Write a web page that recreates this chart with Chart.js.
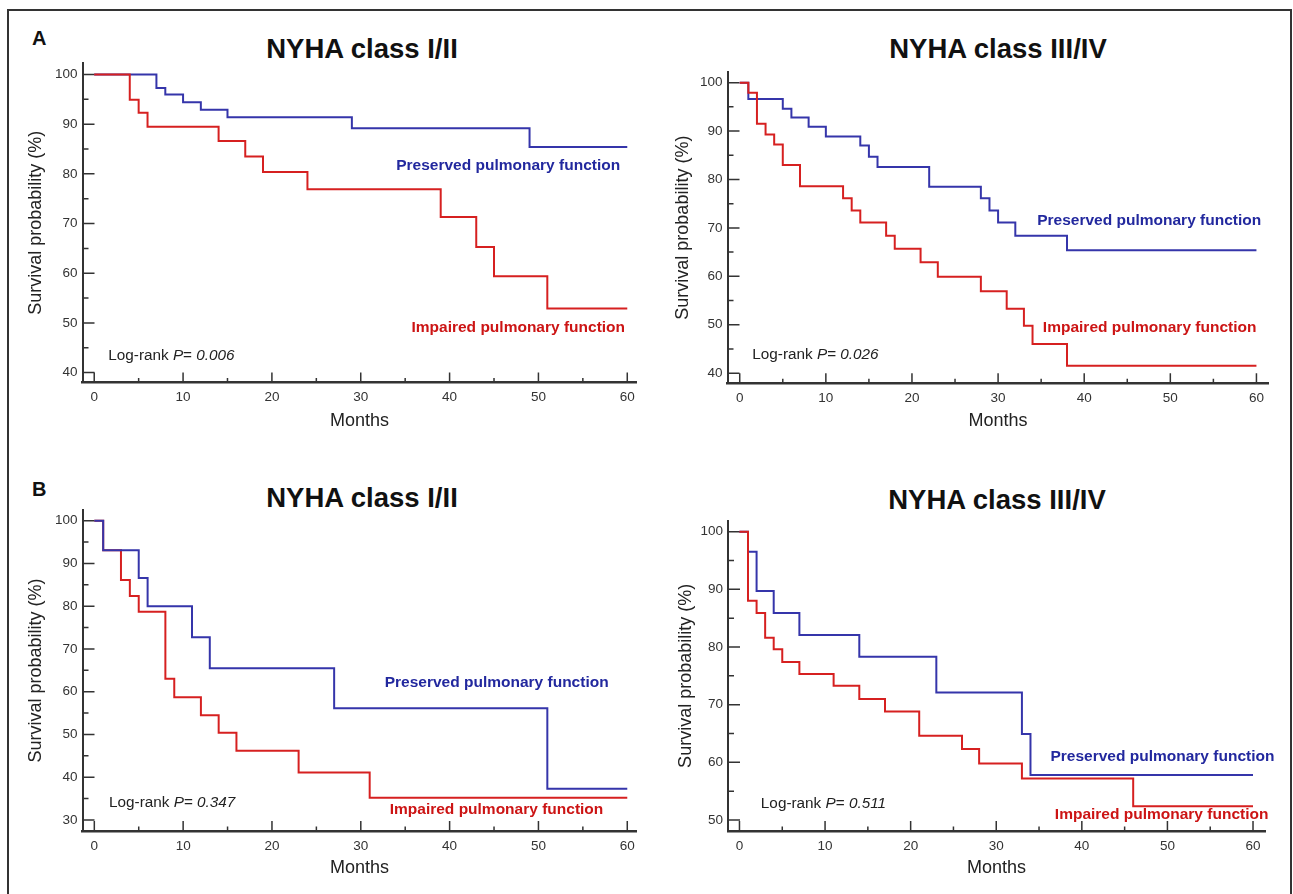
<!DOCTYPE html>
<html>
<head>
<meta charset="utf-8">
<script src="https://cdn.jsdelivr.net/npm/chart.js"></script>
<style>
  body { margin: 0; background: #fff; font-family: 'Liberation Sans', Arial, sans-serif; }
  #frame { position: absolute; left: 7px; top: 9px; width: 1285px; height: 900px; border: 2px solid #333; box-sizing: border-box; }
  .panel-letter { position: absolute; font-weight: bold; font-size: 20px; line-height: 20px; color: #111; }
  .panel-title { position: absolute; width: 400px; text-align: center; font-weight: bold; font-size: 27.5px; line-height: 30px; color: #111; }
  canvas { position: absolute; }
</style>
</head>
<body>
<div id="frame"></div>
<div class="panel-letter" style="left:32px;top:28px">A</div>
<div class="panel-letter" style="left:32px;top:479px">B</div>
<div class="panel-title" style="left:162px;top:34px">NYHA class I/II</div>
<div class="panel-title" style="left:798px;top:34px">NYHA class III/IV</div>
<div class="panel-title" style="left:162px;top:483px">NYHA class I/II</div>
<div class="panel-title" style="left:797px;top:485px">NYHA class III/IV</div>
<canvas id="a1" width="645" height="395" style="left:0;top:50px"></canvas>
<canvas id="a2" width="648" height="395" style="left:645px;top:50px"></canvas>
<canvas id="b1" width="645" height="399" style="left:0;top:495px"></canvas>
<canvas id="b2" width="648" height="399" style="left:645px;top:495px"></canvas>
<script>
// tick labels
var xTicks = [0, 10, 20, 30, 40, 50, 60];
var yTicksA = [40, 50, 60, 70, 80, 90, 100];
var yTicksB1 = [30, 40, 50, 60, 70, 80, 90, 100];
var yTicksB2 = [50, 60, 70, 80, 90, 100];

// A, NYHA I/II
var a1PresMonths = [0, 7, 8, 10, 12, 15, 29, 49, 60];
var a1PresSurv   = [100, 97.3, 96.0, 94.4, 92.9, 91.4, 89.2, 85.4, 85.4];
var a1ImpMonths  = [0, 4, 5, 6, 14, 17, 19, 24, 39, 43, 45, 51, 60];
var a1ImpSurv    = [100, 94.9, 92.3, 89.5, 86.6, 83.5, 80.4, 76.9, 71.3, 65.3, 59.4, 52.9, 52.9];

// A, NYHA III/IV
var a2PresMonths = [0, 1, 5, 6, 8, 10, 14, 15, 16, 22, 28, 29, 30, 32, 38, 60];
var a2PresSurv   = [100, 96.6, 94.6, 92.8, 90.9, 88.9, 87.0, 84.7, 82.6, 78.5, 76.1, 73.6, 71.1, 68.4, 65.4, 65.4];
var a2ImpMonths  = [0, 1, 2, 3, 4, 5, 7, 12, 13, 14, 17, 18, 21, 23, 28, 31, 33, 34, 38, 60];
var a2ImpSurv    = [100, 97.9, 91.5, 89.3, 87.2, 83.0, 78.6, 76.1, 73.6, 71.1, 68.4, 65.7, 62.9, 59.9, 56.9, 53.3, 49.8, 46.0, 41.5, 41.5];

// B, NYHA I/II
var b1PresMonths = [0, 1, 5, 6, 11, 13, 27, 51, 60];
var b1PresSurv   = [100, 93.1, 86.6, 80.0, 72.7, 65.5, 56.1, 37.3, 37.3];
var b1ImpMonths  = [0, 1, 3, 4, 5, 8, 9, 12, 14, 16, 23, 31, 60];
var b1ImpSurv    = [100, 93.1, 86.1, 82.4, 78.7, 63.0, 58.7, 54.5, 50.4, 46.2, 41.1, 35.2, 35.2];

// B, NYHA III/IV
var b2PresMonths = [0, 1, 2, 4, 7, 14, 23, 33, 34, 60];
var b2PresSurv   = [100, 96.5, 89.7, 85.9, 82.1, 78.3, 72.1, 64.9, 57.8, 57.8];
var b2ImpMonths  = [0, 1, 2, 3, 4, 5, 7, 11, 14, 17, 21, 26, 28, 33, 46, 60];
var b2ImpSurv    = [100, 88.0, 85.9, 81.6, 79.6, 77.4, 75.3, 73.3, 71.0, 68.8, 64.6, 62.3, 59.8, 57.2, 52.4, 52.4];

var pValues = ['0.006', '0.026', '0.347', '0.511'];

var BLUE = '#3535aa', RED = '#d62020';
var BLUE_TXT = '#22289e', RED_TXT = '#cc1414';
var FONT = "'Liberation Sans', Arial, sans-serif";

Chart.defaults.font.family = FONT;
Chart.defaults.color = '#333';

function pts(t, s) {
  return t.map(function (m, i) { return { x: m, y: s[i] }; });
}

// inward tick marks, majors and minors
function tickPlugin(yTicks) {
  return {
    id: 'tickMarks',
    beforeDatasetsDraw: function (chart) {
      var ctx = chart.ctx, x = chart.scales.x, y = chart.scales.y, a = chart.chartArea;
      ctx.save();
      ctx.strokeStyle = '#333';
      ctx.lineWidth = 1.5;
      ctx.beginPath();
      xTicks.forEach(function (v, i) {
        var px = x.getPixelForValue(v);
        ctx.moveTo(px, a.bottom); ctx.lineTo(px, a.bottom - 10);
        if (i < xTicks.length - 1) {
          var mx = x.getPixelForValue((v + xTicks[i + 1]) / 2);
          ctx.moveTo(mx, a.bottom); ctx.lineTo(mx, a.bottom - 4.5);
        }
      });
      yTicks.forEach(function (v, i) {
        var py = y.getPixelForValue(v);
        ctx.moveTo(a.left, py); ctx.lineTo(a.left + 12, py);
        if (i < yTicks.length - 1) {
          var my = y.getPixelForValue((v + yTicks[i + 1]) / 2);
          ctx.moveTo(a.left, my); ctx.lineTo(a.left + 6, my);
        }
      });
      ctx.stroke();
      ctx.restore();
    }
  };
}

// curve labels and log-rank text, placed in data units
function textPlugin(items) {
  return {
    id: 'kmText',
    afterDatasetsDraw: function (chart) {
      var ctx = chart.ctx, x = chart.scales.x, y = chart.scales.y;
      items.forEach(function (it) {
        ctx.save();
        ctx.fillStyle = it.color;
        ctx.textBaseline = 'middle';
        ctx.textAlign = 'left';
        var fonts = it.parts.map(function (p) {
          return (p[1] ? 'italic ' : '') + it.weight + ' ' + it.size + 'px ' + FONT;
        });
        var widths = it.parts.map(function (p, i) { ctx.font = fonts[i]; return ctx.measureText(p[0]).width; });
        var total = widths.reduce(function (a, b) { return a + b; }, 0);
        var px = x.getPixelForValue(it.x);
        if (it.align === 'right') px -= total;
        var py = y.getPixelForValue(it.y);
        it.parts.forEach(function (p, i) {
          ctx.font = fonts[i];
          ctx.fillText(p[0], px, py);
          px += widths[i];
        });
        ctx.restore();
      });
    }
  };
}

function makeChart(id, c) {
  var pres = {
    label: 'Preserved pulmonary function', data: pts(c.presT, c.presS),
    borderColor: BLUE, borderWidth: 2, pointRadius: 0, stepped: true, fill: false, order: c.redOnTop ? 2 : 1
  };
  var imp = {
    label: 'Impaired pulmonary function', data: pts(c.impT, c.impS),
    borderColor: RED, borderWidth: 2, pointRadius: 0, stepped: true, fill: false, order: c.redOnTop ? 1 : 2
  };
  var labels = [
    { parts: [['Preserved pulmonary function', false]], x: c.presLbl[0], y: c.presLbl[1], align: 'right', color: BLUE_TXT, weight: 'bold', size: 15.5 },
    { parts: [['Impaired pulmonary function', false]], x: c.impLbl[0], y: c.impLbl[1], align: 'right', color: RED_TXT, weight: 'bold', size: 15.5 },
    { parts: [['Log-rank ', false], ['P', true], ['= ', false], [c.p, true]], x: c.pLbl[0], y: c.pLbl[1], align: 'left', color: '#222', weight: 'normal', size: 15.3 }
  ];
  return new Chart(document.getElementById(id), {
    type: 'line',
    data: { datasets: [pres, imp] },
    options: {
      responsive: false,
      animation: false,
      layout: { autoPadding: false, padding: { top: c.padTop, right: c.padRight, left: 0, bottom: 0 } },
      plugins: { legend: { display: false }, tooltip: { enabled: false } },
      scales: {
        x: {
          type: 'linear', min: c.xMin, max: c.xMax,
          afterBuildTicks: function (s) { s.ticks = xTicks.map(function (v) { return { value: v }; }); },
          afterFit: function (s) { s.height = c.xHeight; },
          grid: { display: false, drawTicks: false },
          border: { display: true, color: '#333', width: 2.5 },
          ticks: { font: { size: 13.5 }, color: '#333', padding: 7, maxRotation: 0 },
          title: { display: true, text: 'Months', font: { size: 18 }, color: '#222', padding: { top: 0, bottom: c.xTitlePad } }
        },
        y: {
          type: 'linear', min: c.yMin, max: c.yMax,
          afterBuildTicks: function (s) { s.ticks = c.yTicks.map(function (v) { return { value: v }; }); },
          afterFit: function (s) { s.width = c.yWidth; },
          grid: { display: false, drawTicks: false },
          border: { display: true, color: '#333', width: 2 },
          ticks: { font: { size: 13.5 }, color: '#333', padding: 5 },
          title: { display: true, text: 'Survival probability (%)', font: { size: 18 }, color: '#222', padding: { top: c.yTitlePad, bottom: 0 } }
        }
      }
    },
    plugins: [tickPlugin(c.yTicks), textPlugin(labels)]
  });
}

makeChart('a1', {
  presT: a1PresMonths, presS: a1PresSurv, impT: a1ImpMonths, impS: a1ImpSurv, redOnTop: true,
  yTicks: yTicksA, xMin: -1.32, xMax: 61.05, yMin: 38, yMax: 102.3,
  padTop: 12, padRight: 8.4, yWidth: 82.5, xHeight: 62.5, yTitlePad: 25, xTitlePad: 13.5,
  presLbl: [59.2, 81.6], impLbl: [59.75, 49.1], pLbl: [1.58, 43.3], p: pValues[0]
});
makeChart('a2', {
  presT: a2PresMonths, presS: a2PresSurv, impT: a2ImpMonths, impS: a2ImpSurv, redOnTop: true,
  yTicks: yTicksA, xMin: -1.42, xMax: 61.4, yMin: 37.9, yMax: 102.2,
  padTop: 22, padRight: 24.5, yWidth: 82.5, xHeight: 61.7, yTitlePad: 27, xTitlePad: 13.5,
  presLbl: [60.55, 71.5], impLbl: [60.0, 49.3], pLbl: [1.46, 43.8], p: pValues[1]
});
makeChart('b1', {
  presT: b1PresMonths, presS: b1PresSurv, impT: b1ImpMonths, impS: b1ImpSurv, redOnTop: false,
  yTicks: yTicksB1, xMin: -1.33, xMax: 61.05, yMin: 27.4, yMax: 102.5,
  padTop: 15, padRight: 8.4, yWidth: 82.5, xHeight: 63, yTitlePad: 25, xTitlePad: 15.2,
  presLbl: [57.9, 62.0], impLbl: [57.3, 32.3], pLbl: [1.66, 33.9], p: pValues[2]
});
makeChart('b2', {
  presT: b2PresMonths, presS: b2PresSurv, impT: b2ImpMonths, impS: b2ImpSurv, redOnTop: true,
  yTicks: yTicksB2, xMin: -1.34, xMax: 61.4, yMin: 48.1, yMax: 101.9,
  padTop: 25.7, padRight: 28, yWidth: 83, xHeight: 63, yTitlePad: 30, xTitlePad: 15.2,
  presLbl: [62.5, 61.0], impLbl: [61.8, 50.9], pLbl: [2.5, 52.9], p: pValues[3]
});
</script>
</body>
</html>
